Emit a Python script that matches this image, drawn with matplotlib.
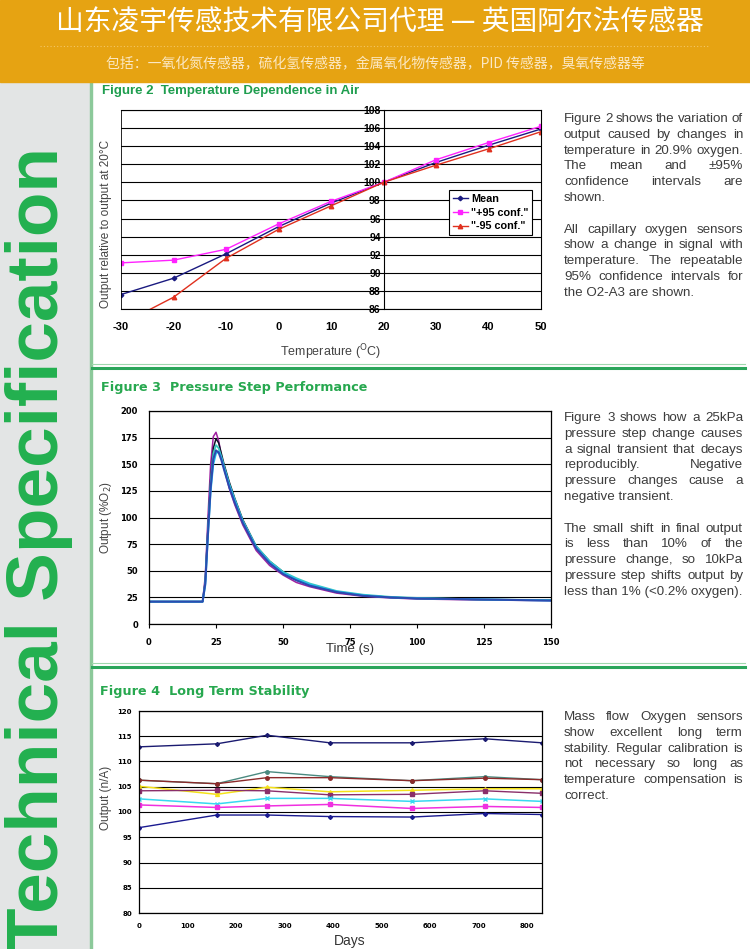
import numpy as np
import matplotlib.pyplot as plt
from matplotlib.patches import Rectangle

plt.rcParams['axes.unicode_minus'] = False

W, H = 750, 949

# ---- Figure 2 data: temperature dependence ----
temp_c = [-30, -20, -10, 0, 10, 20, 30, 40, 50]
mean_out = [87.6, 89.4, 92.1, 95.1, 97.7, 100.0, 102.2, 104.1, 105.9]
plus95_out = [91.1, 91.4, 92.6, 95.4, 97.9, 100.0, 102.5, 104.4, 106.2]
minus95_out = [84.3, 87.3, 91.6, 94.8, 97.4, 100.0, 101.9, 103.7, 105.6]

# ---- Figure 3 data: pressure step transients ----
time_s = [0, 20, 21, 22, 23, 24, 25, 26, 27, 28, 30, 32, 35, 40, 45, 50, 55, 60,
          70, 80, 90, 100, 125, 150]
step_purple = [21, 21, 45, 100, 150, 176, 180, 172, 158, 146, 127, 112, 93, 69, 55, 46,
               39, 35, 29, 26, 24.5, 23.5, 22.5, 22]
step_black = [21, 21, 40, 90, 135, 165, 174, 170, 160, 150, 133, 118, 98, 73, 59, 49,
              42, 37, 30, 27, 25, 24, 23, 22.5]
step_teal = [21, 21, 40, 88, 132, 160, 168, 165, 157, 148, 131, 117, 97, 73, 59, 49,
             43, 38, 31, 27.5, 25.5, 24.5, 23, 22.5]
step_cyan = [21, 21, 36, 82, 124, 150, 160, 162, 156, 147, 130, 116, 96, 72, 58, 48,
             42, 37, 30.5, 27, 25, 24, 23, 22]
step_blue = [21, 21, 38, 85, 128, 155, 163, 161, 154, 145, 128, 114, 95, 71, 57, 47,
             41, 36, 30, 26.5, 25, 24, 23, 22]

# ---- Figure 4 data: long term stability ----
days = [0, 160, 264, 393, 562, 712, 830]
s_navy_top = [112.9, 113.5, 115.2, 113.7, 113.7, 114.5, 113.7]
s_teal = [106.3, 105.6, 108.0, 107.0, 106.2, 107.0, 106.4]
s_maroon = [106.3, 105.6, 106.8, 106.8, 106.2, 106.7, 106.4]
s_yellow = [105.1, 103.5, 104.9, 104.0, 104.3, 104.6, 104.6]
s_plum = [104.2, 104.3, 104.2, 103.4, 103.5, 104.2, 103.7]
s_cyan = [102.6, 101.6, 102.7, 102.7, 102.1, 102.6, 102.1]
s_magenta = [101.4, 100.9, 101.2, 101.5, 100.7, 101.1, 100.9]
s_navy_low = [96.9, 99.4, 99.4, 99.1, 99.0, 99.7, 99.5]

GREEN = '#1f9e4f'
TXT = '#3c3c3c'


def box(l, t, r, b):
    return [l / W, 1 - b / H, (r - l) / W, (b - t) / H]


fig = plt.figure(figsize=(W / 100, H / 100), dpi=100)
bg = fig.add_axes([0, 0, 1, 1])
bg.set_xlim(0, W)
bg.set_ylim(H, 0)
bg.axis('off')

# page background
bg.add_patch(Rectangle((0, 0), W, H, color='white', zorder=0))
bg.add_patch(Rectangle((0, 82), 90, H - 82, color='#e3e5e5', zorder=1))
bg.add_patch(Rectangle((90, 82), 2, H - 82, color='#8cc99a', zorder=1))
bg.add_patch(Rectangle((0, 0), W, 82, color='#e6a312', zorder=1))
bg.plot([40, 710], [46, 46], ls=(0, (1, 2)), color='#f3c667', lw=0.8, zorder=2)

bg.text(380, 23, '山东凌宇传感技术有限公司代理 — 英国阿尔法传感器', color='white',
        fontsize=20, ha='center', va='center', zorder=3,
        family=['Noto Sans CJK SC', 'DejaVu Sans'])
bg.text(375, 64, '包括：一氧化氮传感器，硫化氢传感器，金属氧化物传感器，PID 传感器，臭氧传感器等',
        color='#fbe8c4', fontsize=10, ha='center', va='center', zorder=3,
        family=['Noto Sans CJK SC', 'DejaVu Sans'])

bg.text(58, 147, 'Technical Specification', color='#22b04f', fontsize=52.5,
        fontweight='bold', family='Liberation Sans', rotation=90,
        rotation_mode='anchor', ha='right', va='baseline', zorder=3, clip_on=True)

# section separators
for y in (366, 665):
    bg.plot([92, 745], [y - 2, y - 2], color='#9fd8ad', lw=0.8, zorder=2)
    bg.plot([92, 745], [y + 1.5, y + 1.5], color='#2aa55a', lw=2.2, zorder=2)

# figure titles
bg.text(102, 91, 'Figure 2  Temperature Dependence in Air', color=GREEN, fontsize=9.5,
        fontweight='bold', family='Liberation Sans', va='center', zorder=3)
bg.text(101, 387, 'Figure 3  Pressure Step Performance', color='#27a84f', fontsize=9.2,
        fontweight='bold', family='DejaVu Sans', va='center', zorder=3)
bg.text(100, 691, 'Figure 4  Long Term Stability', color='#27a84f', fontsize=9.2,
        fontweight='bold', family='DejaVu Sans', va='center', zorder=3)

# ---- Figure 2 ----
ax2 = fig.add_axes(box(121, 110, 541, 309))
ax2.plot(temp_c, mean_out, '-D', color='#1a1a80', ms=2.3, lw=1, label='Mean')
ax2.plot(temp_c, plus95_out, '-s', color='#ff22ff', ms=3.2, lw=1, label='"+95 conf."')
ax2.plot(temp_c, minus95_out, '-^', color='#e0301e', ms=3.2, lw=1, label='"-95 conf."')
ax2.set_xlim(-30, 50)
ax2.set_ylim(86, 108)
ax2.set_xticks(range(-30, 51, 10))
ax2.set_yticks(range(86, 109, 2))
ax2.yaxis.grid(True, color='black', lw=0.8)
ax2.axvline(-30, color='black', lw=1.2)
ax2.spines['left'].set_position(('data', 20))
for s in ax2.spines.values():
    s.set_linewidth(0.8)
ax2.tick_params(axis='x', length=0, pad=9, labelsize=8)
ax2.tick_params(axis='y', length=0, pad=2, labelsize=7.5)
for lab in ax2.get_xticklabels() + ax2.get_yticklabels():
    lab.set_fontweight('bold')
    lab.set_family('Liberation Sans')
leg = ax2.legend(loc='upper left', bbox_to_anchor=(0.781, 0.598), fancybox=False,
                 edgecolor='black', framealpha=1, borderpad=0.35, handlelength=1.4,
                 handletextpad=0.3, labelspacing=0.35, borderaxespad=0,
                 prop={'family': 'Liberation Sans', 'weight': 'bold', 'size': 7.8})
leg.get_frame().set_linewidth(0.8)
bg.text(330, 352, 'Temperature ($^{\\rm O}$C)', color='#444444', fontsize=9,
        family='Liberation Sans', ha='center', va='center', zorder=3)
bg.text(106, 224, 'Output relative to output at 20°C', color='#444444', fontsize=8.5,
        family='Liberation Sans', ha='center', va='center', rotation=90, zorder=3)

# ---- Figure 3 ----
ax3 = fig.add_axes(box(149, 411, 551, 624))
ax3.plot(time_s, step_purple, color='#a020a0', lw=1.1)
ax3.plot(time_s, step_black, color='#101028', lw=1.1)
ax3.plot(time_s, step_teal, color='#3cc8c0', lw=1.3)
ax3.plot(time_s, step_cyan, color='#1ec0f0', lw=1.3)
ax3.plot(time_s, step_blue, color='#2b4bb0', lw=1.5)
ax3.set_xlim(0, 150)
ax3.set_ylim(0, 200)
ax3.set_xticks(range(0, 151, 25))
ax3.set_yticks(range(0, 201, 25))
ax3.yaxis.grid(True, color='black', lw=0.8)
for s in ax3.spines.values():
    s.set_linewidth(0.9)
ax3.tick_params(axis='x', length=3, pad=7, labelsize=6)
ax3.tick_params(axis='y', length=0, pad=8, labelsize=6)
for lab in ax3.get_xticklabels() + ax3.get_yticklabels():
    lab.set_fontweight('bold')
bg.text(350, 649, 'Time (s)', color='#333333', fontsize=9.5, family='Liberation Sans',
        ha='center', va='center', zorder=3)
bg.text(106, 518, 'Output (%O$_2$)', color='#444444', fontsize=8.5,
        family='Liberation Sans', ha='center', va='center', rotation=90, zorder=3)

# ---- Figure 4 ----
ax4 = fig.add_axes(box(139, 711, 542, 913))
ax4.plot(days, s_navy_top, '-D', color='#1a1a70', ms=2, lw=1)
ax4.plot(days, s_teal, '-o', color='#4a8a80', ms=2.5, lw=1)
ax4.plot(days, s_maroon, '-o', color='#8b2a2a', ms=2.5, lw=1)
ax4.plot(days, s_yellow, '-^', color='#f5e21a', ms=2.8, lw=1.1)
ax4.plot(days, s_plum, '-s', color='#8a2f6a', ms=2.5, lw=1)
ax4.plot(days, s_cyan, '-x', color='#38d8f0', ms=3, lw=1.1)
ax4.plot(days, s_magenta, '-s', color='#f030e0', ms=3, lw=1.1)
ax4.plot(days, s_navy_low, '-D', color='#1a1a90', ms=2, lw=1)
ax4.set_xlim(0, 830)
ax4.set_ylim(80, 120)
ax4.set_xticks(range(0, 801, 100))
ax4.set_yticks(range(80, 121, 5))
ax4.yaxis.grid(True, color='black', lw=0.8)
for s in ax4.spines.values():
    s.set_linewidth(0.9)
ax4.tick_params(axis='x', length=0, pad=7, labelsize=5)
ax4.tick_params(axis='y', length=0, pad=5, labelsize=5)
for lab in ax4.get_xticklabels() + ax4.get_yticklabels():
    lab.set_fontweight('bold')
bg.text(350, 941, 'Days', color='#333333', fontsize=10, family='Liberation Sans',
        ha='center', va='center', zorder=3)
bg.text(106, 798, 'Output (n/A)', color='#444444', fontsize=8.5,
        family='Liberation Sans', ha='center', va='center', rotation=90, zorder=3)

# ---- side paragraphs (justified) ----
renderer = fig.canvas.get_renderer()


def paragraph(lines, y0, step=15.8, x0=564, x1=743):
    for i, line in enumerate(lines):
        if line is None:
            continue
        y = y0 + i * step
        words = line.split()
        last = i == len(lines) - 1 or lines[i + 1] is None
        kw = dict(color=TXT, fontsize=9.6, family='Liberation Sans', va='baseline', zorder=3)
        if last or len(words) == 1:
            bg.text(x0, y, line, **kw)
            continue
        texts = [bg.text(0, y, w, **kw) for w in words]
        widths = [t.get_window_extent(renderer).width for t in texts]
        gap = ((x1 - x0) - sum(widths)) / (len(words) - 1)
        x = x0
        for t, w in zip(texts, widths):
            t.set_x(x)
            x += w + gap


paragraph(['Figure 2 shows the variation of', 'output caused by changes in',
           'temperature in 20.9% oxygen.', 'The mean and ±95%',
           'confidence intervals are', 'shown.', None,
           'All capillary oxygen sensors', 'show a change in signal with',
           'temperature. The repeatable', '95% confidence intervals for',
           'the O2-A3 are shown.'], 122)
paragraph(['Figure 3 shows how a 25kPa', 'pressure step change causes',
           'a signal transient that decays', 'reproducibly. Negative',
           'pressure changes cause a', 'negative transient.', None,
           'The small shift in final output', 'is less than 10% of the',
           'pressure change, so 10kPa', 'pressure step shifts output by',
           'less than 1% (<0.2% oxygen).'], 421)
paragraph(['Mass flow Oxygen sensors', 'show excellent long term',
           'stability. Regular calibration is', 'not necessary so long as',
           'temperature compensation is', 'correct.'], 720)

fig.savefig('out.png', dpi=100)
